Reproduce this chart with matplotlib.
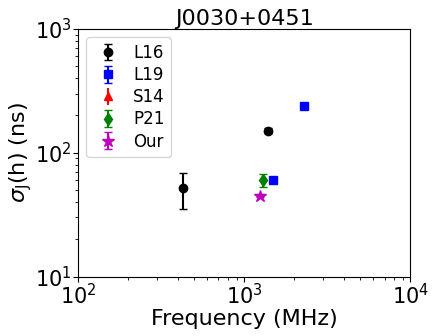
import numpy as np
import matplotlib.pyplot as plt

# frequency (MHz), sigma_J (ns), error (ns)
l16_freq = [430, 1400]
l16_sig = [52, 151]
l16_err = [17, 6]

l19_freq = [1500, 2300]
l19_sig = [60, 240]
l19_err = [2, 5]

s14_freq = []
s14_sig = []
s14_err = []

p21_freq = [1300]
p21_sig = [60]
p21_err = [7]

our_freq = [1250]
our_sig = [45]
our_err = [1.5]

fig, ax = plt.subplots(figsize=(4.36, 3.36), dpi=100)
fig.subplots_adjust(left=0.179, right=0.941, top=0.914, bottom=0.177)

ax.errorbar(l16_freq, l16_sig, yerr=l16_err, fmt='o', color='k', capsize=3, label='L16')
ax.errorbar(l19_freq, l19_sig, yerr=l19_err, fmt='s', color='b', capsize=3, label='L19')
ax.errorbar(s14_freq, s14_sig, yerr=s14_err, fmt='^', color='r', capsize=3, label='S14')
ax.errorbar(p21_freq, p21_sig, yerr=p21_err, fmt='d', color='g', capsize=3, label='P21')
ax.errorbar(our_freq, our_sig, yerr=our_err, fmt='*', color='m', markersize=9, capsize=3, label='Our')

ax.set_xscale('log')
ax.set_yscale('log')
ax.set_xlim(1e2, 1e4)
ax.set_ylim(1e1, 1e3)
ax.set_xlabel('Frequency (MHz)', fontsize=16, labelpad=1)
ax.set_ylabel(r'$\sigma_{\rm J}$(h) (ns)', fontsize=16, labelpad=1)
ax.set_title('J0030+0451', fontsize=16, pad=3)
ax.tick_params(labelsize=15, pad=1)
ax.legend(loc='upper left', fontsize=12, labelspacing=0.25, handlelength=1.8,
          handletextpad=0.6)

plt.savefig('out.png')
